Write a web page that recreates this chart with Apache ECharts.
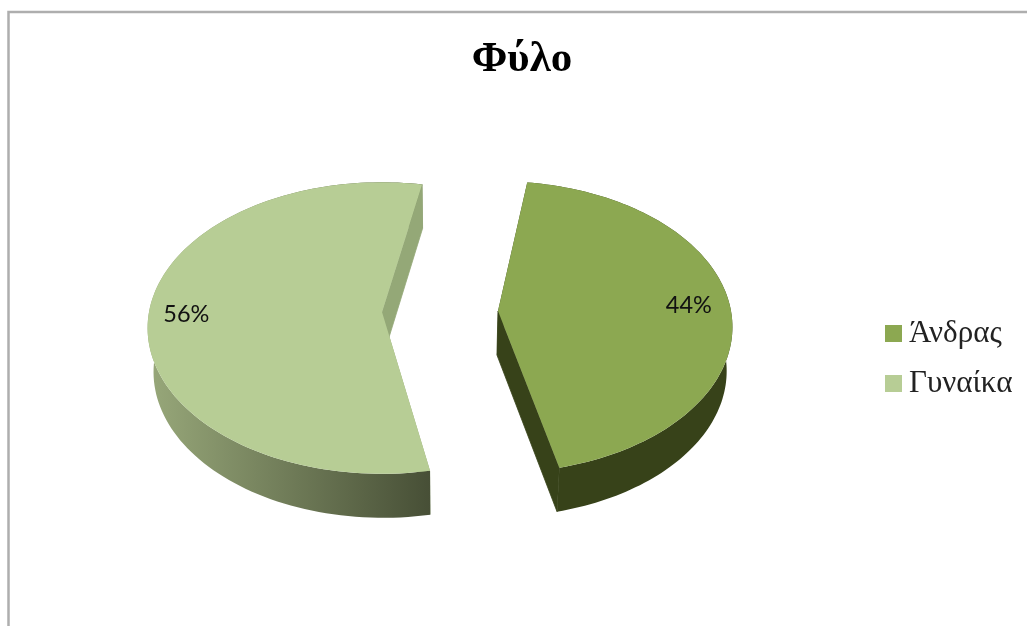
<!DOCTYPE html>
<html><head><meta charset="utf-8">
<style>html,body{margin:0;padding:0;background:#fff}#c{width:1027px;height:626px}</style>
<script src="https://cdn.jsdelivr.net/npm/echarts@6/dist/echarts.min.js"></script>
</head><body><div id="c"></div>
<script>
const chartTitle = 'Φύλο';
const categories = ['Άνδρας', 'Γυναίκα'];
const values = [44, 56];

const faceColors = ['#8ca851', '#b7cd95'];
const wallColors = [['#374219', '#374219'], ['#98a87a', '#474f36']];
const cutColors = ['#374219', '#94a877'];
const apexes = [[498, 311], [382, 312]];
const sliceTurn = [-1, 2];
const labelRadius = [0.815, 0.84];
const labelShift = [[2, 0], [0, 3]];
const START = 9;
const RX = 233, RY = 144, K = 0.11, DEPTH = 44, SHRINK = 0.98, VPX = 445;

const total = values.reduce((a, b) => a + b, 0);
function spanOf(i) {
  let a = START;
  for (let j = 0; j < i; j++) a += values[j] / total * 360;
  return [a + sliceTurn[i], a + sliceTurn[i] + values[i] / total * 360];
}
function project(apex, deg, r) {
  const t = deg * Math.PI / 180, x = r * Math.sin(t), y = -r * Math.cos(t), w = 1 - K * y;
  return [apex[0] + RX * x / w, apex[1] + RY * y / w];
}
function down(p) {
  return [VPX + SHRINK * (p[0] - VPX), p[1] + DEPTH];
}
function grad(c) {
  return {type: 'linear', x: 0, y: 0, x2: 1, y2: 0, colorStops: [{offset: 0, color: c[0]}, {offset: 1, color: c[1]}]};
}
function renderSlice(i, api) {
  const apex = apexes[i], s = spanOf(i), arc = [];
  for (let n = 0; n <= 120; n++) arc.push(project(apex, s[0] + (s[1] - s[0]) * n / 120, 1));
  const poly = (pts, fill, edge) => ({type: 'polygon', shape: {points: pts},
    style: edge ? {fill: fill, stroke: fill, lineWidth: 0.8} : {fill: fill}});
  const first = arc[0], last = arc[arc.length - 1];
  const mid = project(apex, (s[0] + s[1]) / 2, labelRadius[i]);
  return {type: 'group', children: [
    poly([apex, first, down(first), down(apex)], cutColors[i], false),
    poly(arc.concat(arc.slice().reverse().map(down)), grad(wallColors[i])),
    poly([apex, last, down(last), down(apex)], cutColors[i], true),
    poly([apex].concat(arc), faceColors[i]),
    {type: 'text', style: {x: mid[0] + labelShift[i][0], y: mid[1] + labelShift[i][1], text: api.value(0) + '%', fill: '#111',
      font: '23.5px Lato, "Open Sans", sans-serif', align: 'center', verticalAlign: 'middle'}}
  ]};
}

const chart = echarts.init(document.getElementById('c'), null, {renderer: 'canvas'});
chart.setOption({
  animation: false,
  backgroundColor: '#fff',
  title: {text: chartTitle, left: 517, top: 33, textAlign: 'center',
    textStyle: {fontFamily: '"Liberation Serif", serif', fontWeight: 'bold', fontSize: 43, color: '#000'}},
  legend: {orient: 'vertical', left: 880, top: 313, itemWidth: 17, itemHeight: 17, itemGap: 19,
    icon: 'rect', data: categories,
    textStyle: {fontFamily: '"Liberation Serif", serif', fontSize: 31, color: '#222', padding: [0, 0, 0, 2]}},
  graphic: [{type: 'polyline', silent: true,
    shape: {points: [[8.5, 626], [8.5, 12], [1027, 12]]},
    style: {stroke: '#aeaeae', lineWidth: 2.5, fill: null}}],
  series: categories.map((name, i) => ({
    type: 'custom', name: name, coordinateSystem: 'none',
    itemStyle: {color: faceColors[i]},
    data: [[values[i]]],
    renderItem: (params, api) => renderSlice(i, api)
  }))
});
</script></body></html>
